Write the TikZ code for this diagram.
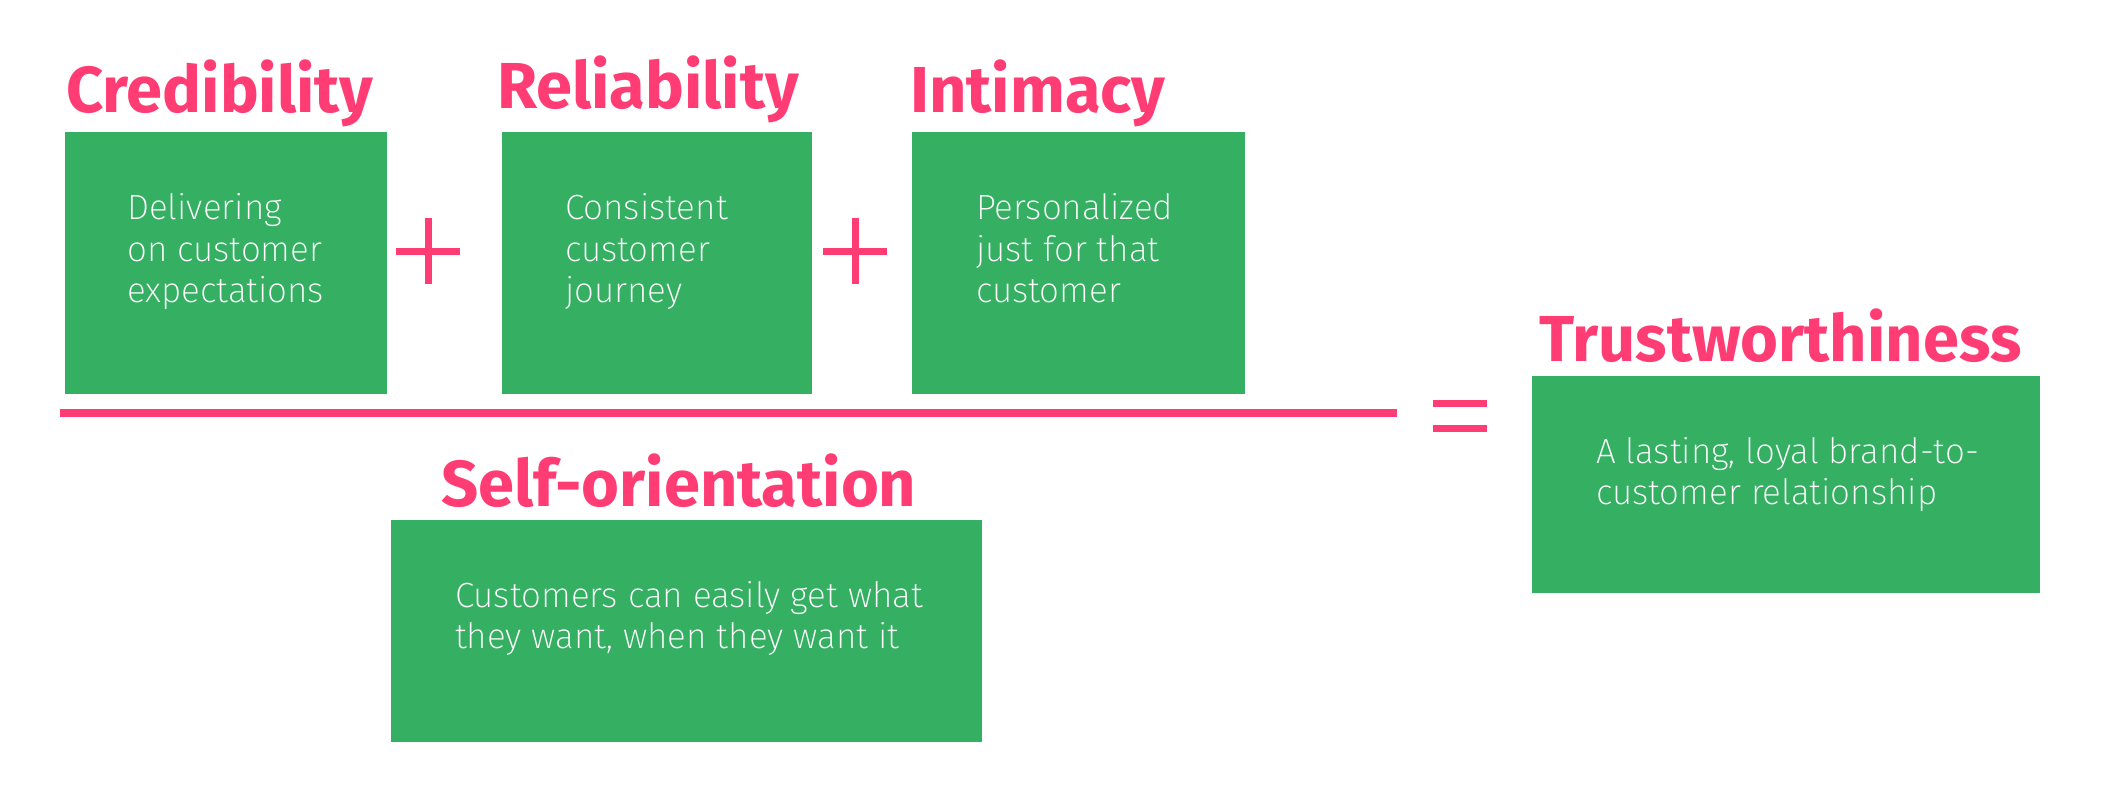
\documentclass[tikz,border=0pt]{standalone}
\usepackage{fontspec}
\newfontfamily\titlefont{Fira Sans}
\newfontfamily\bodyfont{Fira Sans ExtraLight}
\definecolor{tgreen}{RGB}{53,176,99}
\definecolor{tpink}{RGB}{255,61,116}
\begin{document}
\begin{tikzpicture}[x=1pt,y=-1pt,
  box/.style={draw=none,fill=tgreen,anchor=north west,inner sep=0,outer sep=0},
  ttl/.style={anchor=base west,inner sep=0,text=tpink,font=\titlefont\bfseries\fontsize{65}{70}\selectfont},
  txt/.style={anchor=base west,inner sep=0,text=white,font=\bodyfont\fontsize{35}{41}\selectfont},
  bar/.style={tpink,line width=8pt}]
\useasboundingbox[fill=white] (0,0) rectangle (2104,792);
% boxes
\node[box,minimum width=322,minimum height=262] (cred) at (65,132) {};
\node[box,minimum width=310,minimum height=262] (reli) at (502,132) {};
\node[box,minimum width=333,minimum height=262] (inti) at (912,132) {};
\node[box,minimum width=591,minimum height=222] (self) at (391,520) {};
\node[box,minimum width=508,minimum height=217] (trus) at (1532,376) {};
% titles
\node[ttl] (credT) at (66,112) {Credibility};
\node[ttl] (reliT) at (497,108) {Reliability};
\node[ttl] (intiT) at (910,112) {Intimacy};
\node[ttl] (selfT) at (441,506) {Self-orientation};
\node[ttl] (trusT) at (1539,361) {Trustworthiness};
% texts
\node[txt] (cred1) at (127,219) {Delivering};
\node[txt] (cred2) at (127,261) {on customer};
\node[txt] (cred3) at (127,302) {expectations};
\node[txt] (reli1) at (565,219) {Consistent};
\node[txt] (reli2) at (565,261) {customer};
\node[txt] (reli3) at (565,302) {journey};
\node[txt] (inti1) at (976,219) {Personalized};
\node[txt] (inti2) at (976,261) {just for that};
\node[txt] (inti3) at (976,302) {customer};
\node[txt] (self1) at (455,607) {Customers can easily get what};
\node[txt] (self2) at (455,648) {they want, when they want it};
\node[txt] (trus1) at (1596,463) {A lasting, loyal brand-to-};
\node[txt] (trus2) at (1596,504) {customer relationship};
% fraction line
\coordinate (fl) at (60,413);
\coordinate (fr) at (1397,413);
\draw[bar] (fl) -- (fr);
% plus signs
\coordinate (p1) at (428,251);
\coordinate (p2) at (855,251);
\foreach \p in {p1,p2}{
  \draw[tpink,line width=7pt] ([xshift=-32]\p) -- ([xshift=32]\p);
  \draw[tpink,line width=7pt] ([yshift=-33]\p) -- ([yshift=33]\p);
}
% equal sign
\coordinate (eq) at (1460,416);
\draw[tpink,line width=7pt] ([xshift=-27,yshift=-12.5]eq) -- ([xshift=27,yshift=-12.5]eq);
\draw[tpink,line width=7pt] ([xshift=-27,yshift=12.5]eq) -- ([xshift=27,yshift=12.5]eq);
\end{tikzpicture}
\end{document}
